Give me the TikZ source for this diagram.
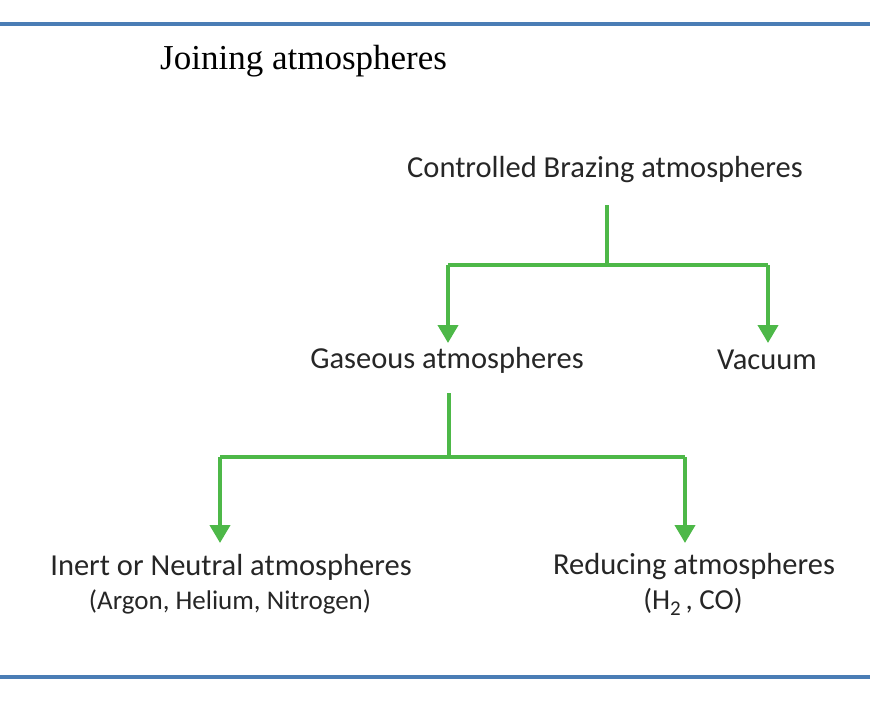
\documentclass[tikz,border=0pt]{standalone}
\usepackage{fontspec}
\setmainfont{Carlito}
\newfontfamily\titlefont{Liberation Serif}
\usetikzlibrary{arrows.meta}
\definecolor{rulecol}{HTML}{4A7DB5}
\definecolor{arrgreen}{HTML}{4DB848}
\begin{document}
\begin{tikzpicture}[x=1pt,y=-1pt,
  lbl/.style={inner sep=0pt, font=\fontsize{30.5}{34}\selectfont, text=black!85, align=center},
  sub/.style={inner sep=0pt, font=\fontsize{27}{30}\selectfont, text=black!85, align=center},
  conn/.style={draw=arrgreen, line width=4pt},
  arr/.style={conn, -{Triangle[width=20pt,length=18pt]}}]
\useasboundingbox (0,0) rectangle (870,707);
\draw[rulecol, line width=4pt] (0,24) -- (870,24);
\draw[rulecol, line width=4pt] (0,677) -- (870,677);
\node[inner sep=0pt, anchor=west, font=\titlefont\fontsize{35}{40}\selectfont] (title) at (160,61) {Joining atmospheres};
\node[lbl] (cba) at (605,170) {Controlled Brazing atmospheres};
\node[lbl] (gas) at (447,360) {Gaseous atmospheres};
\node[lbl] (vac) at (767,360) {Vacuum};
\node[lbl] (inert) at (231,567) {Inert or Neutral atmospheres};
\node[sub] (inert2) at (230,602) {(Argon, Helium, Nitrogen)};
\node[lbl] (red) at (694,567) {Reducing atmospheres};
\node[sub, font=\fontsize{29}{32}\selectfont] (red2) at (693,602) {(H\raisebox{-0.4ex}{\fontsize{21}{22}\selectfont 2}\,, CO)};
\coordinate (j1) at (607,265);
\coordinate (j1l) at (448,265);
\coordinate (j1r) at (768,265);
\coordinate (j2) at (449,457);
\coordinate (j2l) at (220,457);
\coordinate (j2r) at (685,457);
\coordinate (s1) at (607,205);
\coordinate (s2) at (449,393);
\coordinate (e1) at (448,343);
\coordinate (e2) at (768,343);
\coordinate (e3) at (220,543);
\coordinate (e4) at (685,543);
\draw[conn] (s1) -- (j1);
\draw[conn] (j1l) -- (j1r);
\draw[arr] (j1l) -- (e1);
\draw[arr] (j1r) -- (e2);
\draw[conn] (s2) -- (j2);
\draw[conn] (j2l) -- (j2r);
\draw[arr] (j2l) -- (e3);
\draw[arr] (j2r) -- (e4);
\end{tikzpicture}
\end{document}
